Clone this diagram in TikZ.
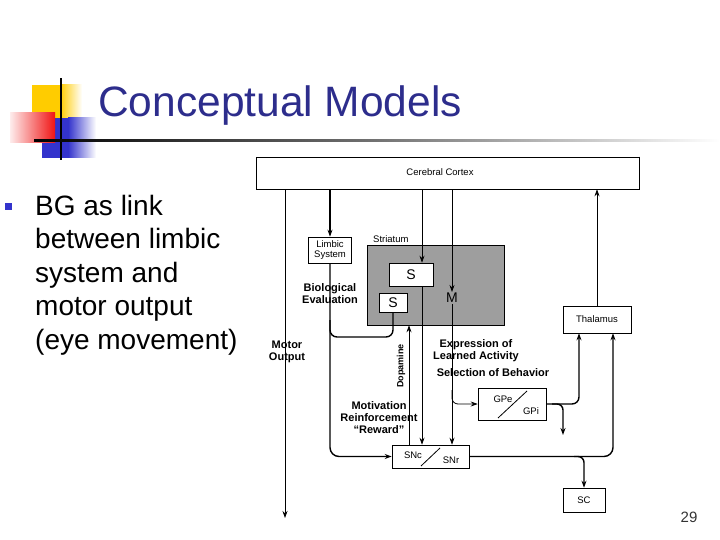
\documentclass[tikz,border=0pt]{standalone}
\usepackage{fontspec}
\setmainfont{Liberation Sans}
\usetikzlibrary{arrows.meta}
\definecolor{titleblue}{RGB}{45,45,140}
\definecolor{decoyellow}{RGB}{255,204,0}
\definecolor{decoblue}{RGB}{51,51,204}
\definecolor{decored}{RGB}{240,20,20}
\begin{document}
\begin{tikzpicture}[x=1pt,y=-1pt,
  box/.style={draw, line width=0.6pt, inner sep=0pt},
  ln/.style={line width=0.8pt},
  tk/.style={line width=1.4pt},
  arr/.style={-{Stealth[length=7pt,width=5pt]}},
  lbl/.style={font=\fontsize{9.5}{10.5}\selectfont, inner sep=0pt, align=center},
  blbl/.style={font=\fontsize{11}{12}\selectfont\bfseries, inner sep=0pt, align=center},
  bul/.style={font=\fontsize{28}{33.5}\selectfont, inner sep=0pt, anchor=base west},
]
\useasboundingbox (0,0) rectangle (720,540);

% title decoration
\fill[decoyellow] (32,85) rectangle (60,120);
\shade[left color=decoyellow, right color=white] (60,85) rectangle (82,120);
\fill[decoblue] (42,118) rectangle (68,158);
\shade[left color=decoblue, right color=white] (68,118) rectangle (96,158);
\shade[left color=decored!8, right color=decored] (10,113) rectangle (55,143);
\fill[black] (60,78) rectangle (62,160);
\shade[left color=black, right color=white, middle color=black!55] (34,140) rectangle (720,142);

\node[anchor=base west, text=titleblue, font=\fontsize{42.5}{50}\selectfont, inner sep=0pt] (title) at (98,117) {Conceptual Models};

% bullet text
\fill[decoblue] (5,203) rectangle (12,210);
\node[bul] (l1) at (35,215) {BG as link};
\node[bul] (l2) at (35,248.5) {between limbic};
\node[bul] (l3) at (35,282) {system and};
\node[bul] (l4) at (35,315.5) {motor output};
\node[bul] (l5) at (35,349) {(eye movement)};

% boxes
\node[box, minimum width=383, minimum height=32] (cortex) at (447.5,173) {};
\node[lbl] (cortextxt) at (440,172) {Cerebral Cortex};
\draw[line width=1.6pt] (cortex.north east) -- (cortex.south east);

\node[box, lbl, minimum width=43, minimum height=26] (limbic) at (330,250) {Limbic\\System};
\node[box, fill=black!38, minimum width=137, minimum height=80] (striatum) at (435.5,285) {};
\node[lbl, anchor=base west] (striatumlbl) at (373,243) {Striatum};
\node[box, fill=white, minimum width=44, minimum height=23, font=\fontsize{14}{14}\selectfont] (supper) at (411,274.5) {S};
\node[box, fill=white, minimum width=28, minimum height=19, font=\fontsize{14}{14}\selectfont] (slower) at (393,302.5) {S};
\node[font=\fontsize{14}{14}\selectfont, inner sep=1pt] (m) at (452,298) {M};

\node[box, lbl, minimum width=68, minimum height=27] (thal) at (597,319.5) {Thalamus};
\node[box, minimum width=68, minimum height=32] (gp) at (512,404) {};
\node[lbl] (gpe) at (503,399) {GPe};
\node[lbl] (gpi) at (531,411) {GPi};
\draw[ln] (498,418) -- (527,391);
\node[box, minimum width=77, minimum height=23] (sn) at (430.5,456.5) {};
\node[lbl] (snc) at (413,455) {SNc};
\node[lbl] (snr) at (451,460) {SNr};
\draw[ln] (421,466) -- (440,448);
\node[box, lbl, minimum width=42, minimum height=24] (sc) at (584,500) {SC};

% coordinates
\coordinate (motorend) at (285,518);
\coordinate (xa) at (422,0);
\coordinate (xm) at (452,0);
\coordinate (xd) at (409,0);
\coordinate (xt1) at (579,0);
\coordinate (xt2) at (613,0);
\coordinate (gpout) at (563,435);

% connectors
\draw[ln,arr] (cortex.south -| motorend) -- (motorend);
\draw[tk,arr] (cortex.south -| limbic.north) -- (limbic.north);
\draw[ln,arr] (cortex.south -| xa) -- (supper.north -| xa);
\draw[ln,arr] (supper.south -| xa) -- (sn.north -| xa);
\draw[ln,arr] (cortex.south -| xm) -- (m.north);
\draw[ln,arr] (m.south) -- (sn.north -| xm);
\draw[ln,arr,rounded corners=6] (xm |- 0,390) |- (gp.west);
\draw[tk,arr,rounded corners=9] (limbic.south) |- (sn.west);
\draw[tk,rounded corners=7] (limbic.south |- 0,320) |- (slower.south |- 0,337) -- (slower.south);
\draw[ln,arr] (sn.north -| xd) -- (striatum.south -| xd);
\draw[ln,arr] (thal.north) -- (cortex.south -| thal.north);
\draw[tk,arr,rounded corners=7] (gp.east) -| (thal.south -| xt1);
\draw[tk,arr,rounded corners=6] (gp.east -| 552,0) -| (gpout);
\draw[tk,arr,rounded corners=9] (sn.east) -| (thal.south -| xt2);
\draw[tk,arr,rounded corners=6] (sn.east -| 574,0) -| (sc.north);

% labels
\node[blbl] (bio) at (330,294) {Biological\\Evaluation};
\node[blbl] (motor) at (287,352) {Motor\\Output};
\node[blbl] (expr) at (476,351) {Expression of\\Learned Activity};
\node[blbl] (sel) at (493,373) {Selection of Behavior};
\node[blbl] (motiv) at (379,418) {Motivation\\Reinforcement\\“Reward”};
\node[rotate=90, font=\fontsize{9}{10}\selectfont\bfseries, inner sep=0pt] (dopa) at (401,366) {Dopamine};

\node[font=\fontsize{15}{15}\selectfont, text=black!80, anchor=base, inner sep=0pt] (pg) at (689,522) {29};
\end{tikzpicture}
\end{document}
